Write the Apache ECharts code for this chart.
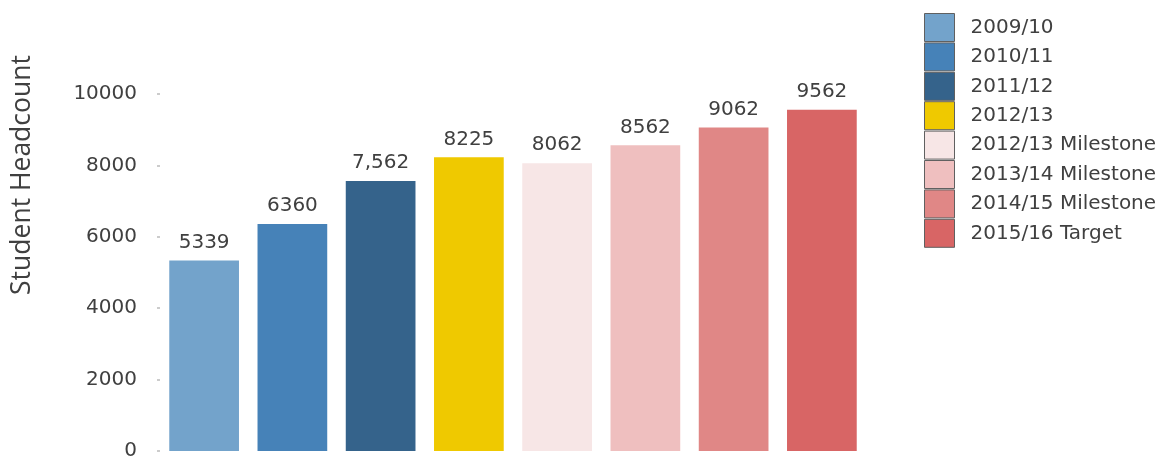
<!DOCTYPE html>
<html>
<head>
<meta charset="utf-8">
<script src="https://cdn.jsdelivr.net/npm/echarts@6/dist/echarts.min.js"></script>
<style>
html,body{margin:0;padding:0;background:#fff;}
#chart{width:1173px;height:461px;}
</style>
</head>
<body>
<div id="chart"></div>
<script>
const categories = ['2009/10','2010/11','2011/12','2012/13','2012/13 Milestone','2013/14 Milestone','2014/15 Milestone','2015/16 Target'];
const values = [5339, 6360, 7562, 8225, 8062, 8562, 9062, 9562];
const valueLabels = ['5339','6360','7,562','8225','8062','8562','9062','9562'];
const colors = ['#73a3cb','#4682b8','#35638b','#efc900','#f7e6e6','#efbfbf','#e08786','#d86565'];
const yTicks = [0, 2000, 4000, 6000, 8000, 10000];
const axisTitle = 'Student Headcount';

const labelFont = '"DejaVu Sans", sans-serif';

const series = categories.map((name, i) => ({
  name: name,
  type: 'bar',
  stack: 'all',
  barWidth: '79%',
  itemStyle: { color: colors[i] },
  label: {
    show: true,
    position: 'top',
    distance: 8,
    color: '#404040',
    fontSize: 20,
    fontFamily: labelFont,
    formatter: () => valueLabels[i]
  },
  data: values.map((v, j) => (j === i ? v : '-'))
}));

const chart = echarts.init(document.getElementById('chart'), null, {renderer: 'canvas'});
chart.setOption({
  animation: false,
  backgroundColor: '#ffffff',
  grid: { left: 160, right: 307, top: 94, bottom: 8, containLabel: false },
  xAxis: {
    type: 'category',
    data: categories,
    axisLine: { show: false },
    axisTick: { show: false },
    axisLabel: { show: false },
    splitLine: { show: false }
  },
  yAxis: {
    type: 'value',
    min: yTicks[0],
    max: yTicks[yTicks.length - 1],
    interval: yTicks[1] - yTicks[0],
    axisLine: { show: false },
    axisTick: { show: true, length: 3, lineStyle: { color: '#cccccc', width: 2 } },
    splitLine: { show: false },
    axisLabel: {
      margin: 23,
      color: '#404040',
      fontSize: 20,
      fontFamily: labelFont,
      formatter: (v) => String(v)
    }
  },
  legend: {
    orient: 'vertical',
    left: 924,
    top: 13,
    padding: 0,
    icon: 'rect',
    itemWidth: 30,
    itemHeight: 28,
    itemGap: 0.4,
    itemStyle: { borderColor: '#606060', borderWidth: 1 },
    textStyle: {
      color: '#404040',
      fontSize: 20,
      fontFamily: labelFont,
      padding: [0, 0, 0, 11]
    },
    data: categories
  },
  graphic: [{
    type: 'text',
    x: 22,
    y: 175,
    rotation: Math.PI / 2,
    style: {
      text: axisTitle,
      fill: '#404040',
      fontSize: 26.5,
      fontFamily: '"Open Sans", sans-serif',
      align: 'center',
      verticalAlign: 'middle'
    }
  }],
  series: series
});
</script>
</body>
</html>
